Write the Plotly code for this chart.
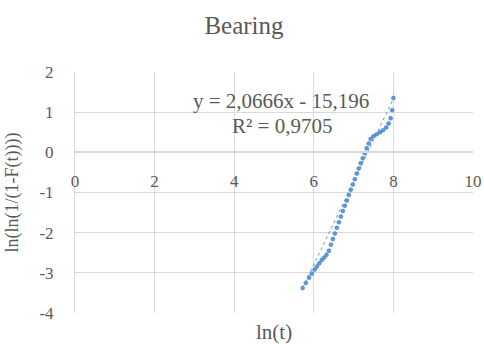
import plotly.graph_objects as go

# Data
ln_t = [5.72, 5.80, 5.88, 5.95, 6.02, 6.08, 6.14, 6.20, 6.26, 6.32, 6.38, 6.43, 6.48, 6.53,
        6.58, 6.63, 6.68, 6.73, 6.78, 6.83, 6.88, 6.93, 6.98, 7.03, 7.08, 7.13, 7.18, 7.23,
        7.28, 7.33, 7.38, 7.43, 7.50, 7.58, 7.66, 7.74, 7.82, 7.88, 7.93, 7.97, 8.00]
ln_ln = [-3.38, -3.25, -3.12, -3.02, -2.92, -2.84, -2.76, -2.68, -2.62, -2.55, -2.45, -2.30,
         -2.16, -2.02, -1.88, -1.74, -1.60, -1.46, -1.33, -1.20, -1.06, -0.93, -0.80, -0.67,
         -0.53, -0.40, -0.27, -0.15, -0.02, 0.10, 0.22, 0.33, 0.40, 0.45, 0.50, 0.55, 0.62,
         0.72, 0.85, 1.05, 1.35]
slope = 2.0666
intercept = -15.196
r2 = 0.9705
trend_x = [5.72, 8.05]
trend_y = [slope * v + intercept for v in trend_x]
x_ticks = [0, 2, 4, 6, 8, 10]
x_labels = ["0", "2", "4", "6", "8", "10"]
y_ticks = [-4, -3, -2, -1, 0, 1, 2]
y_labels = ["-4", "-3", "-2", "-1", "0", "1", "2"]

blue = "#5B9BD5"
grey = "#595959"
serif = "Liberation Serif, Times New Roman, serif"

W, H = 484, 344

fig = go.Figure()
fig.add_trace(go.Scatter(x=trend_x, y=trend_y, mode="lines",
                         line=dict(color=blue, width=1, dash="dot"), showlegend=False))
fig.add_trace(go.Scatter(x=ln_t, y=ln_ln, mode="markers",
                         marker=dict(color=blue, size=4, line=dict(color="#4472C4", width=0.5)),
                         showlegend=False))

y0_frac = (0 - (-4)) / 6.0

fig.update_layout(
    width=W, height=H,
    margin=dict(l=75, r=11, t=72, b=31, autoexpand=False),
    paper_bgcolor="white", plot_bgcolor="white",
    font=dict(family=serif, color=grey, size=17),
    title=dict(text="Bearing", x=244 / W, xanchor="center", y=(H - 25) / H,
               yanchor="middle", font=dict(family=serif, size=25, color=grey)),
    xaxis=dict(range=[0, 10], tickvals=x_ticks, ticktext=x_labels, showgrid=True,
               gridcolor="#d9d9d9", zeroline=False, anchor="free", position=y0_frac,
               showline=True, linecolor="#d9d9d9", linewidth=1.5, ticks="outside", ticklen=14,
               tickcolor="rgba(0,0,0,0)", ticklabeloverflow="allow",
               tickfont=dict(family=serif, size=17, color=grey)),
    yaxis=dict(range=[-4, 2], tickvals=y_ticks, ticktext=y_labels, showgrid=True,
               gridcolor="#d9d9d9", zeroline=False, ticks="outside", ticklen=17,
               tickcolor="rgba(0,0,0,0)", showline=True, linecolor="#d9d9d9", linewidth=1,
               tickfont=dict(family=serif, size=17, color=grey),
               title=dict(text="ln(ln(1/(1-F(t))))", standoff=16,
                          font=dict(family=serif, size=18, color=grey))),
    annotations=[
        dict(text="ln(t)", x=0.5, y=(313 - 332) / 241, xref="paper", yref="paper",
             showarrow=False, xanchor="center", yanchor="middle",
             font=dict(family=serif, size=21, color=grey)),
        dict(text=f"y = {str(slope).replace('.', ',')}x - {str(-intercept).replace('.', ',')}",
             x=5.18, y=1.27, xref="x", yref="y", showarrow=False,
             font=dict(family=serif, size=21, color=grey)),
        dict(text=f"R² = {str(r2).replace('.', ',')}", x=5.2, y=0.66, xref="x", yref="y",
             showarrow=False, font=dict(family=serif, size=21, color=grey)),
    ],
)

fig.write_html("out.html", config={"displayModeBar": False},
               post_script="document.body.style.margin='0';document.body.style.overflow='hidden';")
